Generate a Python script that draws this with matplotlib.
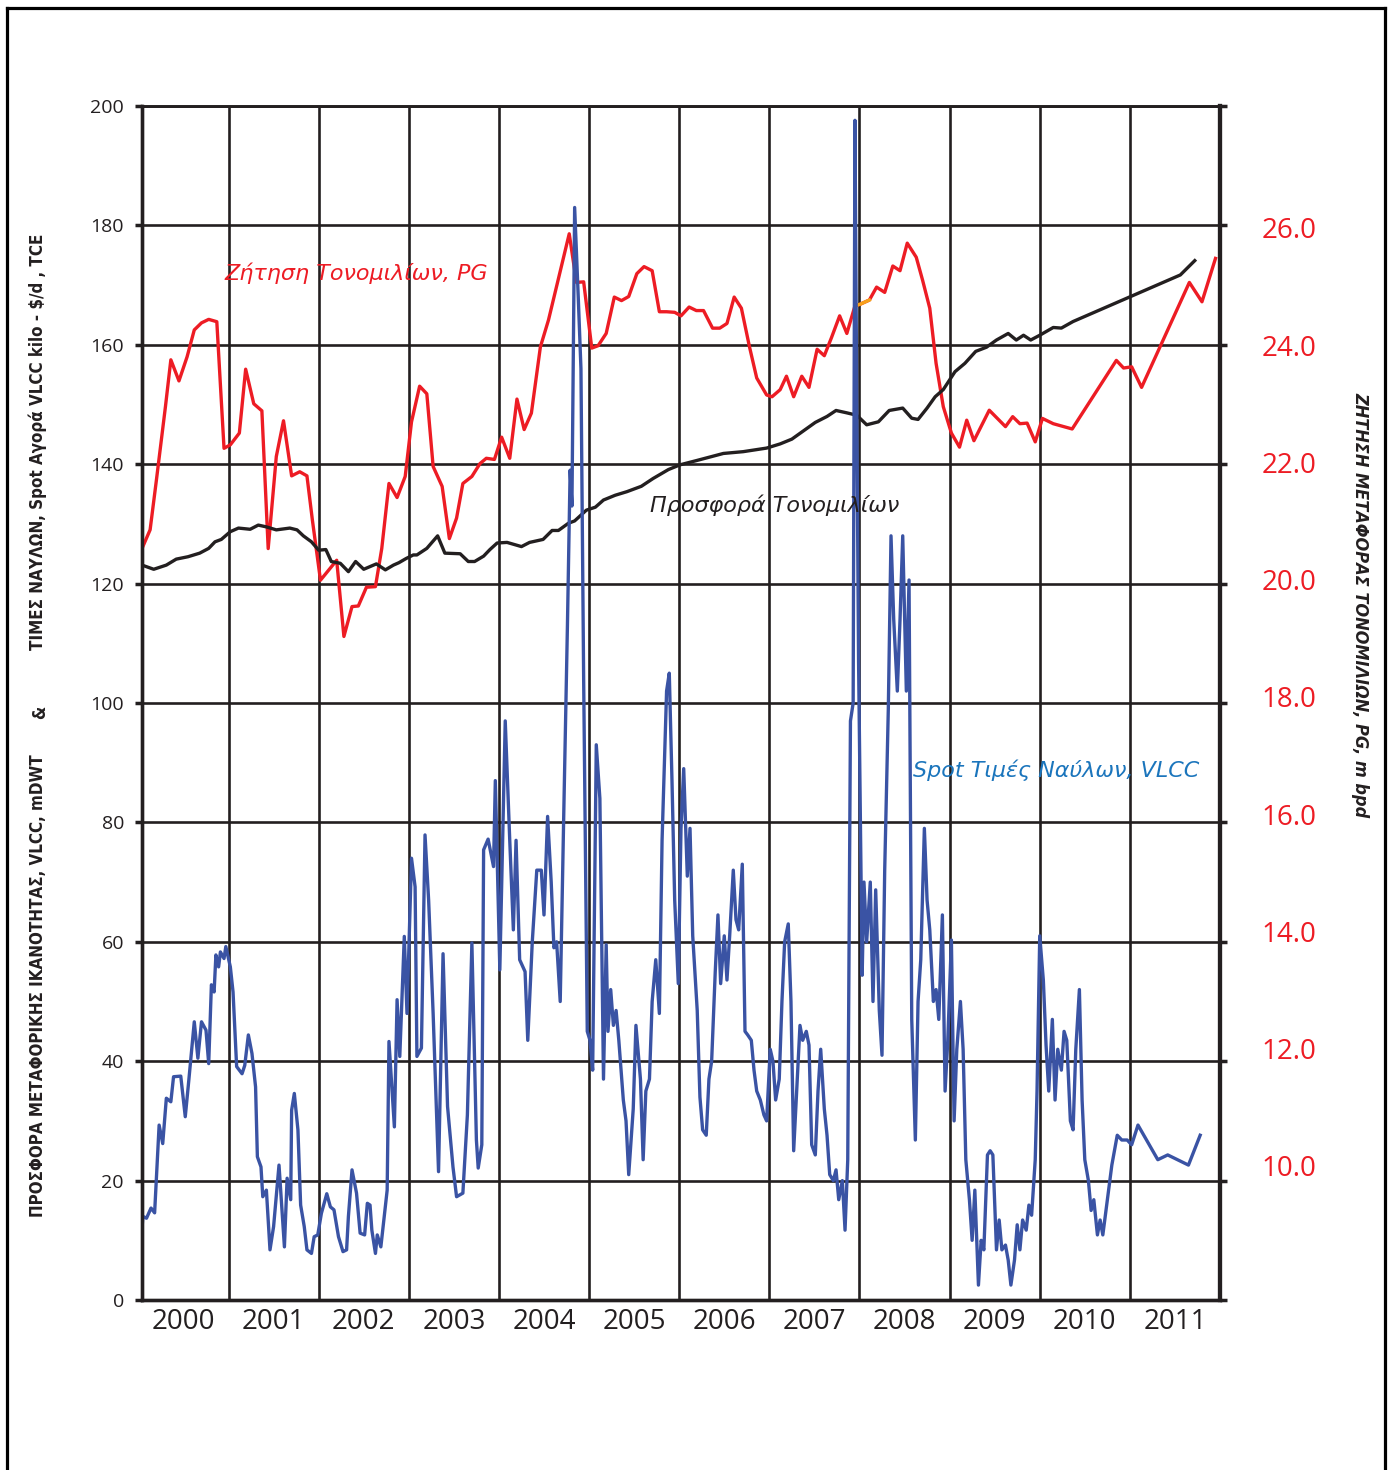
import matplotlib.pyplot as plt
from matplotlib.lines import Line2D

plt.rcParams['font.family'] = ['Open Sans', 'DejaVu Sans']

# Spot freight rates VLCC, thousand $/d TCE (left axis)
rate_year = [2000.04, 2000.05, 2000.09, 2000.14, 2000.18, 2000.23, 2000.27, 2000.31, 2000.36, 2000.39,
             2000.47, 2000.52, 2000.56, 2000.62, 2000.66, 2000.70, 2000.75, 2000.78, 2000.81, 2000.84,
             2000.86, 2000.89, 2000.91, 2000.95, 2000.97, 2001.02, 2001.05, 2001.09, 2001.15, 2001.18,
             2001.22, 2001.26, 2001.30, 2001.32, 2001.36, 2001.38, 2001.42, 2001.46, 2001.50, 2001.56,
             2001.62, 2001.65, 2001.69, 2001.70, 2001.73, 2001.77, 2001.80, 2001.84, 2001.87, 2001.92,
             2001.95, 2001.99, 2002.03, 2002.09, 2002.13, 2002.17, 2002.22, 2002.27, 2002.31, 2002.33,
             2002.37, 2002.42, 2002.46, 2002.51, 2002.54, 2002.57, 2002.59, 2002.63, 2002.65, 2002.69,
             2002.76, 2002.78, 2002.84, 2002.87, 2002.90, 2002.95, 2002.98, 2003.03, 2003.07, 2003.09,
             2003.14, 2003.18, 2003.22, 2003.27, 2003.33, 2003.38, 2003.43, 2003.49, 2003.53, 2003.60,
             2003.65, 2003.70, 2003.75, 2003.77, 2003.81, 2003.83, 2003.88, 2003.94, 2003.96, 2004.01,
             2004.07, 2004.12, 2004.16, 2004.19, 2004.23, 2004.29, 2004.32, 2004.37, 2004.42, 2004.47,
             2004.50, 2004.54, 2004.58, 2004.61, 2004.64, 2004.68, 2004.72, 2004.76, 2004.79, 2004.81,
             2004.84, 2004.88, 2004.91, 2004.94, 2004.98, 2005.01, 2005.04, 2005.08, 2005.12, 2005.16,
             2005.19, 2005.21, 2005.24, 2005.27, 2005.30, 2005.33, 2005.38, 2005.41, 2005.44, 2005.49,
             2005.52, 2005.57, 2005.60, 2005.63, 2005.67, 2005.70, 2005.74, 2005.78, 2005.81, 2005.86,
             2005.89, 2005.92, 2005.95, 2005.99, 2006.02, 2006.05, 2006.09, 2006.12, 2006.15, 2006.20,
             2006.23, 2006.26, 2006.30, 2006.33, 2006.36, 2006.40, 2006.43, 2006.46, 2006.50, 2006.53,
             2006.56, 2006.60, 2006.63, 2006.66, 2006.70, 2006.73, 2006.76, 2006.80, 2006.83, 2006.86,
             2006.90, 2006.94, 2006.97, 2007.01, 2007.04, 2007.07, 2007.11, 2007.14, 2007.17, 2007.21,
             2007.24, 2007.27, 2007.31, 2007.34, 2007.37, 2007.41, 2007.44, 2007.47, 2007.51, 2007.54,
             2007.57, 2007.61, 2007.64, 2007.67, 2007.71, 2007.74, 2007.77, 2007.81, 2007.84, 2007.87,
             2007.90, 2007.93, 2007.95, 2007.97, 2007.99, 2008.03, 2008.05, 2008.08, 2008.12, 2008.15,
             2008.18, 2008.22, 2008.25, 2008.28, 2008.32, 2008.35, 2008.38, 2008.42, 2008.45, 2008.48,
             2008.52, 2008.55, 2008.58, 2008.62, 2008.65, 2008.68, 2008.72, 2008.75, 2008.78, 2008.82,
             2008.85, 2008.88, 2008.92, 2008.95, 2008.98, 2009.02, 2009.05, 2009.08, 2009.12, 2009.15,
             2009.18, 2009.22, 2009.25, 2009.28, 2009.32, 2009.35, 2009.38, 2009.42, 2009.45, 2009.48,
             2009.52, 2009.55, 2009.58, 2009.62, 2009.65, 2009.68, 2009.72, 2009.75, 2009.78, 2009.81,
             2009.85, 2009.88, 2009.91, 2009.95, 2009.97, 2010.00, 2010.04, 2010.07, 2010.10, 2010.14,
             2010.17, 2010.20, 2010.24, 2010.27, 2010.30, 2010.34, 2010.37, 2010.40, 2010.44, 2010.47,
             2010.50, 2010.54, 2010.57, 2010.60, 2010.64, 2010.67, 2010.70, 2010.75, 2010.80, 2010.86,
             2010.91, 2010.97, 2011.02, 2011.09, 2011.31, 2011.42, 2011.65, 2011.78]
rate_val = [12.0, 14.0, 13.7, 15.4, 14.6, 29.3, 26.2, 33.8, 33.2, 37.4,
            37.5, 30.7, 36.9, 46.6, 40.5, 46.6, 45.2, 39.6, 52.8, 51.6,
            57.8, 55.8, 58.3, 57.2, 59.2, 55.8, 51.6, 39.1, 37.9, 39.3,
            44.4, 41.3, 35.7, 24.0, 22.3, 17.3, 18.4, 8.4, 12.3, 22.6,
            8.9, 20.4, 16.8, 31.8, 34.6, 28.5, 15.9, 12.3, 8.4, 7.8,
            10.6, 10.9, 14.5, 17.8, 15.6, 15.1, 10.6, 8.1, 8.4, 14.0,
            21.8, 17.9, 11.2, 10.9, 16.2, 15.9, 11.7, 7.8, 10.9, 8.9,
            18.4, 43.3, 29.0, 50.3, 40.8, 60.9, 48.0, 74.0, 69.2, 40.8,
            42.2, 77.9, 67.0, 48.0, 21.5, 58.0, 32.4, 22.3, 17.3, 17.9,
            31.0, 59.8, 26.8, 22.1, 26.0, 75.4, 77.2, 72.6, 87.0, 55.3,
            97.0, 77.0, 62.0, 77.0, 57.0, 55.0, 43.5, 60.0, 72.0, 72.0,
            64.5, 81.0, 70.0, 59.0, 60.0, 50.0, 82.0, 113.0, 139.0, 133.0,
            183.0, 168.0, 156.0, 104.0, 45.0, 43.5, 38.5, 93.0, 84.0, 37.0,
            59.5, 45.0, 52.0, 46.0, 48.5, 43.5, 33.5, 30.0, 21.0, 32.0,
            46.0, 37.0, 23.5, 35.0, 37.0, 50.0, 57.0, 48.0, 77.0, 102.0,
            105.0, 87.0, 67.0, 53.0, 79.0, 89.0, 71.0, 79.0, 61.0, 48.5,
            34.0, 28.5, 27.6, 37.0, 40.0, 55.0, 64.5, 53.0, 61.0, 53.6,
            61.0, 72.0, 63.7, 62.0, 73.0, 45.0, 44.4, 43.5, 38.5, 35.0,
            33.5, 31.0, 30.0, 42.0, 40.0, 33.5, 37.0, 50.0, 60.0, 63.0,
            50.0, 25.0, 37.0, 46.0, 43.5, 45.0, 42.7, 26.0, 24.3, 35.0,
            42.0, 32.0, 27.6, 21.0, 20.0, 21.8, 16.8, 20.0, 11.7, 23.5,
            97.0, 100.0, 197.6, 150.0, 107.0, 54.4, 70.0, 60.0, 70.0, 50.0,
            68.7, 48.5, 41.0, 72.0, 99.0, 128.0, 114.0, 102.0, 114.0, 128.0,
            102.0, 120.6, 47.0, 26.8, 50.0, 57.0, 79.0, 67.0, 62.0, 50.0,
            52.0, 47.0, 64.5, 35.0, 43.5, 60.3, 30.0, 42.0, 50.0, 42.0,
            23.5, 16.8, 10.0, 18.4, 2.5, 10.0, 8.4, 24.3, 25.0, 24.3,
            8.4, 13.4, 8.4, 9.2, 6.7, 2.5, 6.7, 12.6, 8.4, 13.4,
            11.7, 15.9, 14.2, 23.5, 35.0, 61.0, 53.6, 42.7, 35.0, 47.0,
            33.5, 42.0, 38.5, 45.0, 43.5, 30.0, 28.5, 42.0, 52.0, 33.5,
            23.5, 20.0, 15.0, 16.8, 10.9, 13.4, 10.9, 16.8, 22.6, 27.6,
            26.8, 26.8, 26.0, 29.3, 23.5, 24.3, 22.6, 27.6]

# VLCC carrying capacity supply, mDWT (left axis)
supply_year = [2000.04, 2000.17, 2000.31, 2000.42, 2000.55, 2000.68, 2000.78, 2000.85, 2000.92, 2001.02,
               2001.11, 2001.24, 2001.33, 2001.42, 2001.53, 2001.68, 2001.76, 2001.83, 2001.92, 2002.00,
               2002.08, 2002.14, 2002.24, 2002.33, 2002.41, 2002.50, 2002.64, 2002.74, 2002.83, 2002.89,
               2002.97, 2003.05, 2003.09, 2003.20, 2003.32, 2003.40, 2003.57, 2003.66, 2003.73, 2003.83,
               2003.90, 2003.98, 2004.09, 2004.25, 2004.34, 2004.49, 2004.59, 2004.66, 2004.77, 2004.84,
               2004.97, 2005.07, 2005.16, 2005.29, 2005.42, 2005.58, 2005.71, 2005.88, 2006.01, 2006.19,
               2006.49, 2006.71, 2006.97, 2007.12, 2007.25, 2007.38, 2007.51, 2007.64, 2007.74, 2007.86,
               2007.97, 2008.08, 2008.21, 2008.33, 2008.48, 2008.58, 2008.65, 2008.75, 2008.84, 2008.93,
               2009.06, 2009.17, 2009.29, 2009.41, 2009.52, 2009.65, 2009.74, 2009.82, 2009.90, 2010.00,
               2010.15, 2010.24, 2010.37, 2011.56, 2011.72]
supply_val = [123.1, 122.4, 123.1, 124.1, 124.5, 125.1, 125.9, 127.0, 127.4, 128.7,
              129.3, 129.1, 129.8, 129.5, 129.0, 129.3, 129.0, 128.0, 127.0, 125.6,
              125.7, 123.7, 123.4, 122.0, 123.7, 122.4, 123.3, 122.3, 123.1, 123.5,
              124.2, 124.8, 124.8, 125.9, 128.0, 125.1, 125.0, 123.7, 123.7, 124.6,
              125.7, 126.8, 126.9, 126.2, 126.9, 127.4, 128.9, 128.9, 130.1, 130.5,
              132.3, 132.8, 134.0, 134.8, 135.4, 136.3, 137.6, 139.1, 139.9, 140.6,
              141.8, 142.1, 142.7, 143.4, 144.2, 145.6, 147.0, 148.0, 149.0, 148.6,
              148.2, 146.6, 147.1, 149.0, 149.4, 147.7, 147.5, 149.4, 151.3, 152.5,
              155.5, 156.9, 158.9, 159.6, 160.8, 161.9, 160.8, 161.6, 160.8, 161.6,
              162.9, 162.8, 163.9, 171.7, 174.1]

# Tonne-mile demand from the PG, m bpd (right axis)
demand_year = [2000.04, 2000.13, 2000.20, 2000.30, 2000.36, 2000.45, 2000.54, 2000.62, 2000.70, 2000.78,
               2000.87, 2000.95, 2001.02, 2001.12, 2001.19, 2001.28, 2001.37, 2001.44, 2001.53, 2001.61,
               2001.70, 2001.79, 2001.87, 2001.93, 2002.02, 2002.20, 2002.28, 2002.37, 2002.44, 2002.53,
               2002.63, 2002.70, 2002.78, 2002.87, 2002.96, 2003.03, 2003.12, 2003.20, 2003.27, 2003.37,
               2003.45, 2003.53, 2003.60, 2003.70, 2003.79, 2003.86, 2003.95, 2004.03, 2004.12, 2004.20,
               2004.28, 2004.36, 2004.46, 2004.55, 2004.78, 2004.86, 2004.94, 2005.03, 2005.10, 2005.19,
               2005.28, 2005.36, 2005.44, 2005.53, 2005.61, 2005.70, 2005.78, 2005.86, 2005.95, 2006.02,
               2006.11, 2006.19, 2006.27, 2006.37, 2006.45, 2006.53, 2006.61, 2006.69, 2006.78, 2006.86,
               2006.97, 2007.03, 2007.12, 2007.19, 2007.27, 2007.36, 2007.44, 2007.53, 2007.61, 2007.69,
               2007.78, 2007.86, 2007.95, 2008.01, 2008.11, 2008.19, 2008.28, 2008.37, 2008.45, 2008.53,
               2008.63, 2008.70, 2008.78, 2008.85, 2008.93, 2009.02, 2009.11, 2009.19, 2009.27, 2009.44,
               2009.53, 2009.62, 2009.70, 2009.78, 2009.86, 2009.95, 2010.03, 2010.15, 2010.36, 2010.85,
               2010.93, 2011.02, 2011.13, 2011.66, 2011.80, 2011.95]
demand_val = [20.53, 20.85, 21.70, 22.95, 23.75, 23.39, 23.80, 24.26, 24.38, 24.44,
              24.40, 22.24, 22.30, 22.50, 23.59, 23.00, 22.88, 20.53, 22.10, 22.71,
              21.77, 21.84, 21.77, 21.02, 19.99, 20.33, 19.03, 19.54, 19.55, 19.87,
              19.88, 20.53, 21.64, 21.40, 21.76, 22.69, 23.30, 23.17, 21.93, 21.59,
              20.70, 21.05, 21.64, 21.76, 21.98, 22.07, 22.05, 22.43, 22.07, 23.08,
              22.56, 22.84, 23.97, 24.43, 25.90, 25.07, 25.08, 23.95, 23.99, 24.20,
              24.82, 24.76, 24.83, 25.22, 25.34, 25.27, 24.57, 24.57, 24.56, 24.50,
              24.65, 24.59, 24.59, 24.29, 24.29, 24.37, 24.82, 24.63, 23.97, 23.44,
              23.15, 23.12, 23.24, 23.47, 23.12, 23.47, 23.28, 23.93, 23.82, 24.13,
              24.50, 24.20, 24.67, 24.70, 24.77, 24.99, 24.90, 25.35, 25.27, 25.74,
              25.50, 25.11, 24.63, 23.69, 22.95, 22.50, 22.26, 22.72, 22.37, 22.89,
              22.75, 22.61, 22.78, 22.66, 22.67, 22.35, 22.75, 22.66, 22.57, 23.74,
              23.61, 23.63, 23.28, 25.07, 24.74, 25.48]

years = list(range(2000, 2012))
left_ticks = list(range(0, 201, 20))
right_ticks = [10, 12, 14, 16, 18, 20, 22, 24, 26]

ink = '#231f20'
red = '#ed1c24'
blue = '#3a53a4'

fig = plt.figure(figsize=(13.94, 14.70), dpi=100)
ax = fig.add_axes([142 / 1394, 1 - 1300 / 1470, 1078 / 1394, 1194 / 1470])
ax2 = ax.twinx()

ax.set_xlim(2000.04, 2012.0)
ax.set_ylim(0, 200)
ax2.set_ylim(7.71, 28.08)

# grid
ax.set_xticks(years[1:])
ax.set_yticks(left_ticks)
ax.grid(True, color=ink, linewidth=1.9)
ax.set_axisbelow(True)
ax.tick_params(axis='x', which='major', length=0, labelbottom=False)
ax.set_xticks([y + 0.5 for y in years], [str(y) for y in years], minor=True)
ax.tick_params(axis='x', which='minor', length=0, labelsize=20, pad=6, colors=ink)
ax.tick_params(axis='y', length=5, width=2.5, direction='out', labelsize=14, pad=8, colors=ink,
               right=True)

ax2.set_yticks(right_ticks, [f'{t:.1f}' for t in right_ticks])
ax2.tick_params(axis='y', length=0, labelcolor=red, labelsize=20, pad=30)

for a in (ax, ax2):
    for s in a.spines.values():
        s.set_color(ink)
    a.spines['left'].set_linewidth(2.4)
    a.spines['bottom'].set_linewidth(2.4)
    a.spines['top'].set_linewidth(1.9)
    a.spines['right'].set_linewidth(3.0)

# series
ax.plot(demand_year, demand_val, color=red, lw=2.4, transform=ax2.transData, zorder=3)
ax.plot(demand_year[92:95], demand_val[92:95], color='#f7a21b', lw=2.4, transform=ax2.transData, zorder=3)
ax.plot(supply_year, supply_val, color=ink, lw=2.4, zorder=4)
ax.plot(rate_year, rate_val, color=blue, lw=2.4, zorder=5)

ax.text(2000.96, 172, 'Ζήτηση Τονομιλίων, PG', color=red, fontsize=16, style='italic',
        va='center', ha='left', family=['DejaVu Sans'])
ax.text(2005.68, 133.2, 'Προσφορά Τονομιλίων', color=ink, fontsize=16, style='italic',
        va='center', ha='left', family=['DejaVu Sans'], zorder=6)
ax.text(2008.59, 88.8, 'Spot Τιμές Ναύλων, VLCC', color='#1b75bc', fontsize=16, style='italic',
        va='center', ha='left', family=['DejaVu Sans'], zorder=6)

# axis titles
lab = dict(rotation=90, fontsize=12.2, fontweight='bold', color=ink, ha='center', va='center',
           family=['DejaVu Sans'], fontstretch='condensed')
fig.text(38 / 1394, 1 - 986 / 1470, 'ΠΡΟΣΦΟΡΑ ΜΕΤΑΦΟΡΙΚΗΣ ΙΚΑΝΟΤΗΤΑΣ, VLCC, mDWT', **lab)
fig.text(40 / 1394, 1 - 712 / 1470, '&', **lab)
fig.text(38 / 1394, 1 - 442 / 1470, 'ΤΙΜΕΣ ΝΑΥΛΩΝ, Spot Αγορά VLCC kilo - $/d , TCE', **lab)
fig.text(1360 / 1394, 1 - 605 / 1470, 'ΖΗΤΗΣΗ ΜΕΤΑΦΟΡΑΣ ΤΟΝΟΜΙΛΙΩΝ, PG, m bpd', rotation=-90,
         fontsize=13, fontweight='bold', style='italic', color=ink, ha='center', va='center',
         family=['DejaVu Sans'], fontstretch='condensed')

# page frame
fx = lambda p: p / 1394
fy = lambda p: 1 - p / 1470
for xs, ys in [([fx(7), fx(7)], [0, fy(8)]), ([fx(7), fx(1385)], [fy(8), fy(8)]),
               ([fx(1385), fx(1385)], [fy(8), 0])]:
    fig.add_artist(Line2D(xs, ys, color='black', lw=2.3))

fig.savefig('out.png', dpi=100)
